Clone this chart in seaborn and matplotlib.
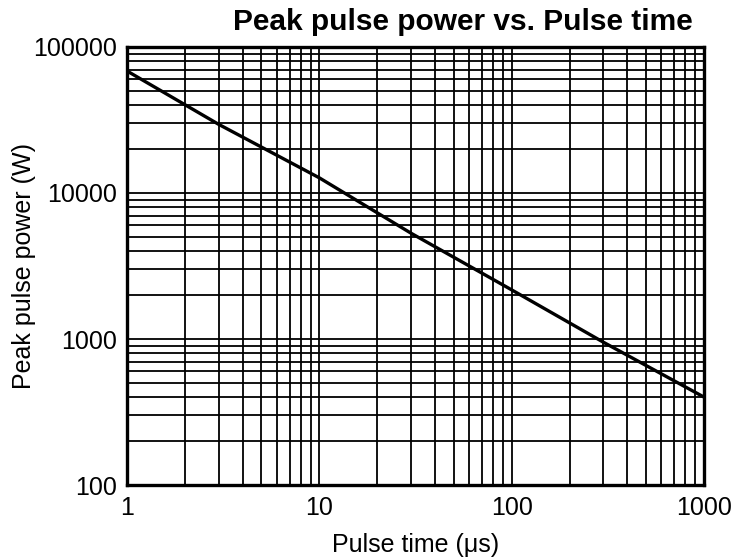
import numpy as np
import pandas as pd
import seaborn as sns
import matplotlib.pyplot as plt
from matplotlib.ticker import LogLocator, FixedLocator, NullFormatter

# values
pulse_time = [1, 3, 10, 30, 100, 300, 1000]
peak_power = [68500, 29500, 12700, 5300, 2170, 950, 400]

x_ticks = [1, 10, 100, 1000]
x_tick_labels = ["1", "10", "100", "1000"]
y_ticks = [100, 1000, 10000, 100000]
y_tick_labels = ["100", "1000", "10000", "100000"]

df = pd.DataFrame({"t": pulse_time, "p": peak_power})

sns.set_style("white")
plt.rcParams['font.family'] = ['Liberation Sans', 'DejaVu Sans']
plt.rcParams['text.color'] = 'black'
plt.rcParams['axes.labelcolor'] = 'black'
plt.rcParams['xtick.color'] = 'black'
plt.rcParams['ytick.color'] = 'black'

fig = plt.figure(figsize=(7.4, 5.6), dpi=100)
ax = fig.add_axes([0.1716, 0.1339, 0.7798, 0.7822])

sns.lineplot(data=df, x="t", y="p", ax=ax, color="black", linewidth=2.4)

ax.set_xscale("log")
ax.set_yscale("log")
ax.set_xlim(1, 1000)
ax.set_ylim(100, 100000)

ax.xaxis.set_major_locator(FixedLocator(x_ticks))
ax.set_xticklabels(x_tick_labels)
ax.yaxis.set_major_locator(FixedLocator(y_ticks))
ax.set_yticklabels(y_tick_labels)
ax.xaxis.set_minor_locator(LogLocator(base=10, subs=np.arange(2, 10)))
ax.yaxis.set_minor_locator(LogLocator(base=10, subs=np.arange(2, 10)))
ax.xaxis.set_minor_formatter(NullFormatter())
ax.yaxis.set_minor_formatter(NullFormatter())

ax.grid(True, which="both", color="black", linewidth=1.3)
ax.set_axisbelow(True)
ax.tick_params(which="both", length=0, labelsize=18, colors="black")
ax.tick_params(axis="y", pad=7)
ax.tick_params(axis="x", pad=8)

for s in ax.spines.values():
    s.set_color("black")
    s.set_linewidth(2.4)

ax.set_xlabel("Pulse time (\u03bcs)", fontsize=18, labelpad=9, color="black")
ax.set_ylabel("Peak pulse power (W)", fontsize=18, labelpad=-2, color="black")
fig.text(0.626, 0.946, "Peak pulse power vs. Pulse time", fontsize=21.5,
         fontweight="bold", ha="center", va="baseline", color="black")

plt.savefig("out.png", dpi=100)
plt.close()
